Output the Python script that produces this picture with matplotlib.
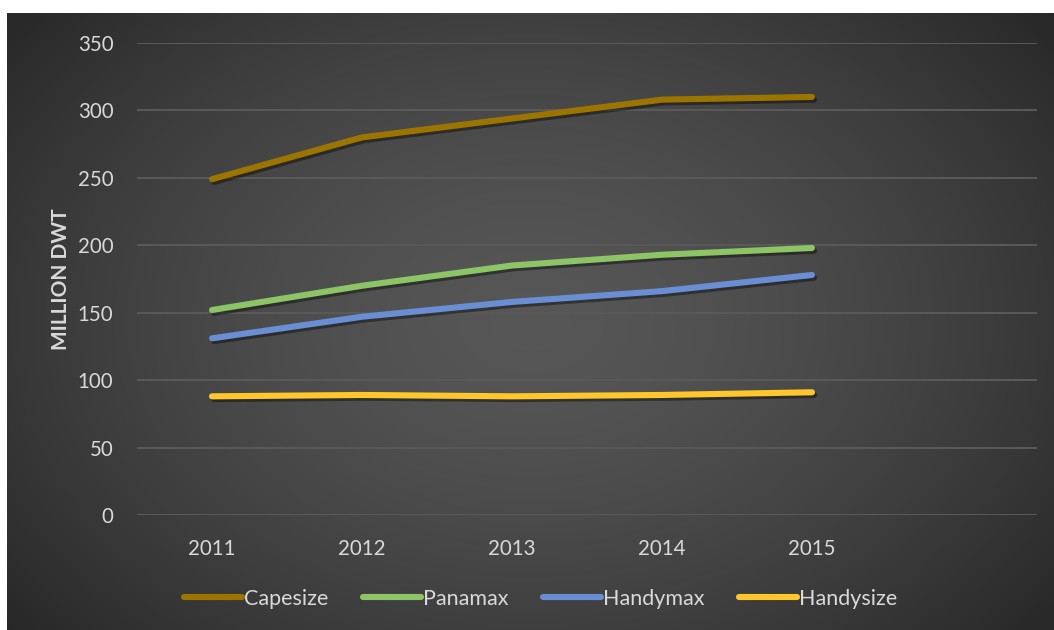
import numpy as np
import matplotlib
matplotlib.use("Agg")
import matplotlib.pyplot as plt
import matplotlib.patheffects as pe

years = ["2011", "2012", "2013", "2014", "2015"]
capesize = [249, 280, 294, 308, 310]
panamax = [152, 170, 185, 193, 198]
handymax = [131, 147, 158, 166, 178]
handysize = [88, 89, 88, 89, 91]

series_names = ["Capesize", "Panamax", "Handymax", "Handysize"]
series_values = [capesize, panamax, handymax, handysize]
series_colors = ["#9C7500", "#8CC466", "#6A8ED4", "#FFC72C"]
y_ticks = [0, 50, 100, 150, 200, 250, 300, 350]

W, H, DPI = 1054, 630, 100
plt.rcParams["font.family"] = ["Lato", "DejaVu Sans"]

fig = plt.figure(figsize=(W / DPI, H / DPI), dpi=DPI)
fig.patch.set_facecolor("white")

# radial gradient panel behind the chart
bg = fig.add_axes([7 / W, 0, 1 - 7 / W, 1 - 13 / H])
bg.set_axis_off()
gx = np.linspace(0, 1, 400)
gy = np.linspace(0, 1, 250)
X, Y = np.meshgrid(gx, gy)
cx, cy = 0.50, 0.50
r = np.sqrt(((X - cx) / 0.66) ** 2 + ((Y - cy) / 0.80) ** 2)
r = np.clip(r, 0, 1)
inner, outer = 0.34, 0.15
val = inner + (outer - inner) * r ** 1.5
bg.imshow(np.dstack([val, val, val]), extent=[0, 1, 0, 1], aspect="auto",
          interpolation="bilinear", zorder=0)
bg.set_xlim(0, 1)
bg.set_ylim(0, 1)

# plotting area
left, right = 137 / W, 1037 / W
y0, y350 = 515, 43
ax_bottom = 1 - y0 / H
ax_top = 1 - y350 / H
ax = fig.add_axes([left, ax_bottom, right - left, ax_top - ax_bottom])
ax.patch.set_alpha(0)
ax.set_xlim(-0.5, 5.5)
ax.set_ylim(0, 350)

for s in ax.spines.values():
    s.set_visible(False)
ax.set_yticks(y_ticks)
ax.set_xticks(range(len(years)))
ax.set_xticklabels(years)
ax.grid(axis="y", color="#5A5A5A", linewidth=1.4, zorder=0)
ax.tick_params(axis="both", length=0, colors="#D9D9D9", labelsize=14.8)
ax.tick_params(axis="y", pad=17)
ax.tick_params(axis="x", pad=17)
ax.set_ylabel("MILLION DWT", color="#D9D9D9", fontsize=15, fontweight="bold")
ax.yaxis.set_label_coords(-66 / 900, 0.50)

shadow = [pe.SimpleLineShadow(offset=(1.5, -2), shadow_color="black", alpha=0.4),
          pe.Normal()]
x = np.arange(len(years))
lines = []
for name, vals, col in zip(series_names, series_values, series_colors):
    ln, = ax.plot(x, vals, color=col, linewidth=4.4, solid_capstyle="round",
                  solid_joinstyle="round", label=name, path_effects=shadow,
                  zorder=3)
    lines.append(ln)

leg = fig.legend(handles=lines, loc="center", bbox_to_anchor=(0.513, 1 - 599 / H),
                 ncol=4, frameon=False, fontsize=15.5, handlelength=2.7,
                 handletextpad=0.1, columnspacing=1.6, labelcolor="#D9D9D9")
for h in leg.legend_handles:
    h.set_path_effects([])

fig.savefig("out.png", dpi=DPI, facecolor="white")
